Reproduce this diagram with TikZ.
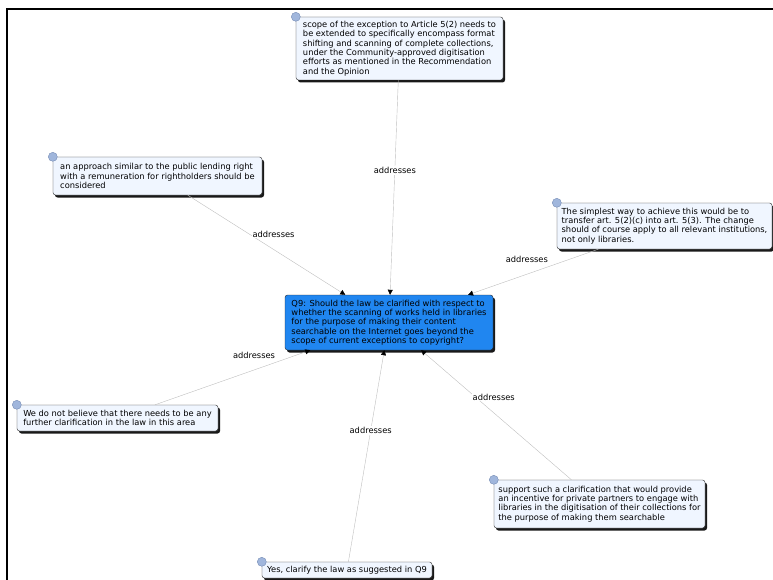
\documentclass[tikz,border=0pt]{standalone}
\usepackage{fontspec}
\setmainfont{DejaVu Sans}
\usetikzlibrary{arrows.meta,shadows}

\definecolor{notefill}{RGB}{240,246,255}
\definecolor{qfill}{RGB}{32,134,240}
\definecolor{dotfill}{RGB}{160,182,220}
\definecolor{dotdraw}{RGB}{115,138,180}
\definecolor{linkgray}{RGB}{190,190,190}

\begin{document}
\begin{tikzpicture}[x=1pt,y=-1pt,semithick,
                    font=\fontsize{8.3}{9.3}\selectfont]
  \tikzstyle{note}=[draw=black!85,fill=notefill,rounded corners=2.5pt,thin,
                    align=left,inner xsep=2pt,inner ysep=2pt,
                    drop shadow={shadow xshift=2pt,shadow yshift=-2.5pt,fill=black,opacity=0.9}]
  \tikzstyle{dot}=[circle,draw=dotdraw,fill=dotfill,thin,minimum size=9pt,inner sep=0pt]
  \tikzstyle{link}=[draw=linkgray,thin,-{Triangle[black,length=5pt,width=5pt]}]
  \tikzstyle{lbl}=[fill=white,inner sep=1pt]

  \useasboundingbox (0,0) rectangle (773,580);
  \draw[line width=1.2pt] (7,580) -- (7,9) -- (773,9);

  \node[note,fill=qfill,minimum width=208pt,minimum height=55pt] (q) at (389,322.5)
    {Q9: Should the law be clarified with respect to\\
     whether the scanning of works held in libraries\\
     for the purpose of making their content\\
     searchable on the Internet goes beyond the\\
     scope of current exceptions to copyright?};

  \node[note,minimum width=207pt,minimum height=63pt] (scope) at (399.5,48.5)
    {scope of the exception to Article 5(2) needs to\\
     be extended to specifically encompass format\\
     shifting and scanning of complete collections,\\
     under the Community-approved digitisation\\
     efforts as mentioned in the Recommendation\\
     and the Opinion};
  \node[note,minimum width=209pt,minimum height=38pt] (lending) at (157.5,176)
    {an approach similar to the public lending right\\
     with a remuneration for rightholders should be\\
     considered};
  \node[note,minimum width=215pt,minimum height=46pt] (simplest) at (664.5,226)
    {The simplest way to achieve this would be to\\
     transfer art. 5(2)(c) into art. 5(3). The change\\
     should of course apply to all relevant institutions,\\
     not only libraries.};
  \node[note,minimum width=201pt,minimum height=26pt] (noneed) at (117.5,418)
    {We do not believe that there needs to be any\\
     further clarification in the law in this area};
  \node[note,minimum width=211pt,minimum height=48pt] (support) at (599.5,504)
    {support such a clarification that would provide\\
     an incentive for private partners to engage with\\
     libraries in the digitisation of their collections for\\
     the purpose of making them searchable};
  \node[note,minimum width=170pt,minimum height=16pt] (yes) at (347,570)
    {Yes, clarify the law as suggested in Q9};

  \node[dot] (scope-dot)    at (scope.north west)    {};
  \node[dot] (lending-dot)  at (lending.north west)  {};
  \node[dot] (simplest-dot) at (simplest.north west) {};
  \node[dot] (noneed-dot)   at (noneed.north west)   {};
  \node[dot] (support-dot)  at (support.north west)  {};
  \node[dot] (yes-dot)      at (yes.north west)      {};

  \path (scope)    edge[link] node[lbl,pos=0.42] {addresses} (q)
        (lending)  edge[link] node[lbl,pos=0.5,xshift=7pt,yshift=11pt] {addresses} (q)
        (simplest) edge[link] node[lbl,pos=0.51,xshift=-5pt,yshift=13pt] {addresses} (q)
        (noneed)   edge[link] node[lbl,pos=0.67,xshift=-5pt,yshift=13pt] {addresses} (q)
        (yes)      edge[link] node[lbl,pos=0.62] {addresses} (q)
        (support)  edge[link] node[lbl,pos=0.57,xshift=8pt,yshift=9pt] {addresses} (q);
\end{tikzpicture}
\end{document}
